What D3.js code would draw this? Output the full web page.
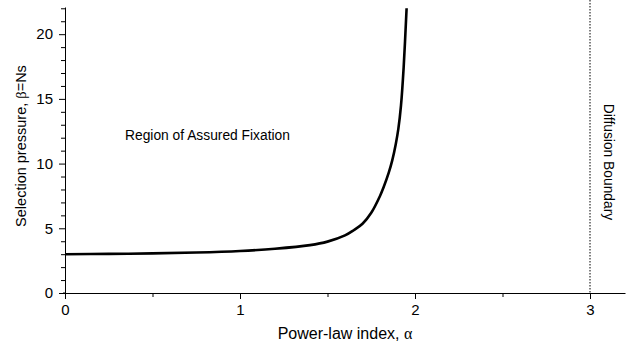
<!DOCTYPE html>
<html>
<head>
<meta charset="utf-8">
<script src="https://cdn.jsdelivr.net/npm/d3@7"></script>
<style>
  body { margin: 0; background: #fff; }
  svg { display: block; font-family: "Liberation Sans", Arial, sans-serif; }
  .axis text { font-size: 15px; fill: #000; }
  .axis path, .axis line { stroke: #000; }
</style>
</head>
<body>
<svg id="chart" width="628" height="348"></svg>
<script>
'use strict'

// curve: power-law index alpha vs selection pressure beta
const alphaVals = [0, 0.25, 0.5, 0.75, 1.0, 1.2, 1.4, 1.5, 1.6, 1.65, 1.7, 1.75, 1.8, 1.82, 1.85, 1.87, 1.89, 1.905, 1.92, 1.935, 1.952]
const betaVals  = [3.0, 3.02, 3.06, 3.13, 3.25, 3.42, 3.7, 3.97, 4.45, 4.85, 5.35, 6.2, 7.5, 8.15, 9.3, 10.25, 11.5, 12.7, 14.5, 17.4, 22.0]

const xTicks = [0, 1, 2, 3]
const xMinor = [0.5, 1.5, 2.5]
const yTicks = [0, 5, 10, 15, 20]
const yMinor = [1, 2, 3, 4, 6, 7, 8, 9, 11, 12, 13, 14, 16, 17, 18, 19, 21, 22]
const boundaryAlpha = 3

const svg = d3.select('#chart')

const x = d3.scaleLinear().domain([0, 3.2]).range([65, 625])
const y = d3.scaleLinear().domain([0, 22.1]).range([293, 7])

// minor ticks first, no labels
svg.append('g').attr('class', 'axis')
  .attr('transform', `translate(0,${y(0)})`)
  .call(d3.axisBottom(x).tickValues(xMinor).tickSize(4).tickSizeOuter(0).tickFormat(''))
  .select('.domain').remove()
svg.append('g').attr('class', 'axis')
  .attr('transform', `translate(${x(0)},0)`)
  .call(d3.axisLeft(y).tickValues(yMinor).tickSize(4).tickSizeOuter(0).tickFormat(''))
  .select('.domain').remove()

// major ticks
svg.append('g').attr('class', 'axis')
  .attr('transform', `translate(0,${y(0)})`)
  .call(d3.axisBottom(x).tickValues(xTicks).tickSize(6).tickSizeOuter(0).tickPadding(5).tickFormat(d3.format('d')))
svg.append('g').attr('class', 'axis')
  .attr('transform', `translate(${x(0)},0)`)
  .call(d3.axisLeft(y).tickValues(yTicks).tickSize(6).tickSizeOuter(0).tickPadding(6).tickFormat(d3.format('d')))

// x axis line pokes a little left of zero
svg.append('line')
  .attr('x1', x(0) - 2).attr('x2', x(0))
  .attr('y1', y(0)).attr('y2', y(0))
  .attr('stroke', '#000')

// diffusion boundary
svg.append('line')
  .attr('x1', x(boundaryAlpha)).attr('x2', x(boundaryAlpha))
  .attr('y1', 0).attr('y2', y(0))
  .attr('stroke', '#000')
  .attr('stroke-width', 1)
  .attr('stroke-dasharray', '1.5 1.5')

// the curve
const pts = alphaVals.map((a, i) => [a, betaVals[i]])
const line = d3.line()
  .x(d => x(d[0]))
  .y(d => y(d[1]))
  .curve(d3.curveCatmullRom.alpha(0.5))
svg.append('path')
  .datum(pts)
  .attr('fill', 'none')
  .attr('stroke', '#000')
  .attr('stroke-width', 2.6)
  .attr('d', line)

// annotations
svg.append('text')
  .attr('x', 125).attr('y', 140)
  .attr('font-size', 13.8)
  .text('Region of Assured Fixation')

svg.append('text')
  .attr('transform', `translate(604,162) rotate(90)`)
  .attr('text-anchor', 'middle')
  .attr('font-size', 13.8)
  .text('Diffusion Boundary')

// axis titles
const xt = svg.append('text')
  .attr('x', 345).attr('y', 339)
  .attr('text-anchor', 'middle')
  .attr('font-size', 16)
xt.append('tspan').text('Power-law index, ')
xt.append('tspan').attr('font-family', '"Liberation Serif", "DejaVu Serif", serif').text('α')

const yt = svg.append('text')
  .attr('transform', `translate(26,146) rotate(-90)`)
  .attr('text-anchor', 'middle')
  .attr('font-size', 14.5)
yt.append('tspan').text('Selection pressure, ')
yt.append('tspan').attr('font-family', '"Liberation Serif", "DejaVu Serif", serif').text('β')
yt.append('tspan').text('=Ns')
</script>
</body>
</html>
